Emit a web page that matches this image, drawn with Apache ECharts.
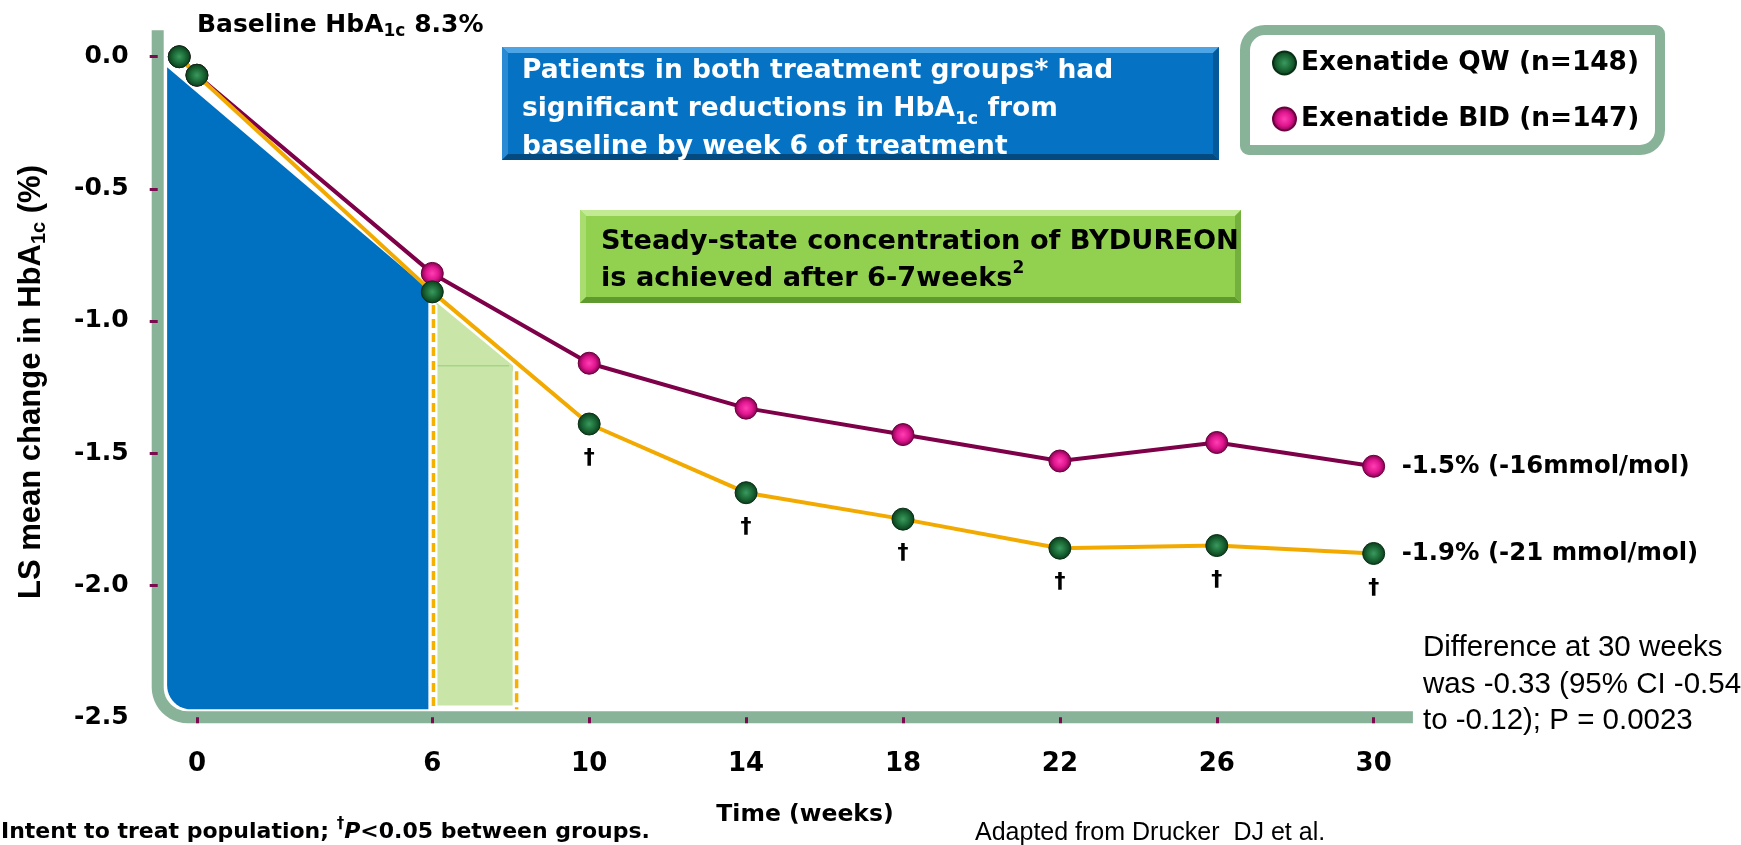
<!DOCTYPE html>
<html>
<head>
<meta charset="utf-8">
<script src="https://cdn.jsdelivr.net/npm/echarts@6/dist/echarts.min.js"></script>
<style>
  html, body { margin: 0; padding: 0; background: #fff; }
  #main { width: 1741px; height: 845px; }
</style>
</head>
<body>
<div id="main"></div>
<script>
// values (weeks, LS mean change in HbA1c %)
const weeks = [-0.45, 0, 6, 10, 14, 18, 22, 26, 30];
const qwChange = [0.0, -0.07, -0.89, -1.39, -1.65, -1.75, -1.86, -1.85, -1.88];
const bidChange = [0.0, -0.07, -0.82, -1.16, -1.33, -1.43, -1.53, -1.46, -1.55];
const significant = [false, false, false, true, true, true, true, true, true];
const seriesNames = ['Exenatide QW (n=148)', 'Exenatide BID (n=147)'];
const endLabels = ['-1.9% (-21 mmol/mol)', '-1.5% (-16mmol/mol)'];
const xTickWeeks = [0, 6, 10, 14, 18, 22, 26, 30];
const yTickValues = [0, -0.5, -1.0, -1.5, -2.0, -2.5];

// shaded regions under the QW line (week, change)
const earlyWeeks = [-0.76, 5.9];
const earlyTop = [-0.04, -0.88];
const steadyWeeks = [6.11, 8.06];
const steadyTop = [-0.93, -1.17];
const dashedWeeks = [6.03, 8.15];
const dashedTop = [-0.94, -1.19];
const shadeBottom = -2.47;

const BOLD = 'DejaVu Sans';
const ARIAL = 'Liberation Sans';

const greenDot = {
  type: 'radial', x: 0.5, y: 0.5, r: 0.5,
  colorStops: [
    { offset: 0, color: '#3a9a5e' },
    { offset: 0.55, color: '#1c6a37' },
    { offset: 1, color: '#0a3a1a' }
  ]
};
const pinkDot = {
  type: 'radial', x: 0.5, y: 0.5, r: 0.5,
  colorStops: [
    { offset: 0, color: '#ff3fb4' },
    { offset: 0.55, color: '#e0168f' },
    { offset: 1, color: '#7a0048' }
  ]
};

// axis band, shaded areas, dashed guides
function renderShapes(params, api) {
  const cs = params.coordSys;
  const pt = (w, v) => api.coord([w, v]);
  const children = [];

  const bx = cs.x, by = cs.y + cs.height, R = 30;
  const band = [[bx, cs.y]];
  for (let i = 0; i <= 12; i++) {
    const a = Math.PI - (i / 12) * Math.PI / 2;
    band.push([bx + R + R * Math.cos(a), by - R + R * Math.sin(a)]);
  }
  band.push([cs.x + cs.width, by]);
  children.push({
    type: 'polyline', shape: { points: band },
    style: { stroke: '#88b398', lineWidth: 12, fill: 'none' }
  });

  const p0 = pt(earlyWeeks[0], earlyTop[0]);
  const p1 = pt(earlyWeeks[1], earlyTop[1]);
  const yb = pt(0, shadeBottom)[1];
  const r = 24;
  const blue = [p0, p1, [p1[0], yb]];
  for (let i = 0; i <= 12; i++) {
    const a = Math.PI / 2 + (i / 12) * Math.PI / 2;
    blue.push([p0[0] + r + r * Math.cos(a), yb - r + r * Math.sin(a)]);
  }
  children.push({ type: 'polygon', shape: { points: blue }, style: { fill: '#0070c0' } });

  const s0 = pt(steadyWeeks[0], steadyTop[0]);
  const s1 = pt(steadyWeeks[1], steadyTop[1]);
  const yb2 = pt(0, shadeBottom + 0.015)[1];
  children.push({
    type: 'polygon',
    shape: { points: [s0, s1, [s1[0], yb2], [s0[0], yb2]] },
    style: { fill: '#c9e6a8' }
  });
  children.push({
    type: 'line',
    shape: { x1: s0[0], y1: s1[1], x2: s1[0] - 4, y2: s1[1] },
    style: { stroke: '#a8d488', lineWidth: 1.5 }
  });

  dashedWeeks.forEach((w, i) => {
    const t = pt(w, dashedTop[i]);
    children.push({
      type: 'line', shape: { x1: t[0], y1: t[1], x2: t[0], y2: yb },
      style: { stroke: '#fff', lineWidth: 8 }
    });
    children.push({
      type: 'line', shape: { x1: t[0], y1: t[1], x2: t[0], y2: yb },
      style: { stroke: '#f5b000', lineWidth: 3.5, lineDash: [9, 5] }
    });
  });

  return { type: 'group', children };
}

function bevelBox(x, y, w, h, d, c) {
  return [
    { type: 'rect', shape: { x, y, width: w, height: h }, style: { fill: c.base } },
    { type: 'polygon', shape: { points: [[x, y], [x + w, y], [x + w - d, y + d], [x + d, y + d]] }, style: { fill: c.top } },
    { type: 'polygon', shape: { points: [[x, y], [x + d, y + d], [x + d, y + h - d], [x, y + h]] }, style: { fill: c.left } },
    { type: 'polygon', shape: { points: [[x, y + h], [x + d, y + h - d], [x + w - d, y + h - d], [x + w, y + h]] }, style: { fill: c.bottom } },
    { type: 'polygon', shape: { points: [[x + w, y], [x + w, y + h], [x + w - d, y + h - d], [x + w - d, y + d]] }, style: { fill: c.right } }
  ];
}

const chart = echarts.init(document.getElementById('main'));

chart.setOption({
  animation: false,
  backgroundColor: '#fff',
  grid: { left: 157.7, right: 328.1, top: 30.3, bottom: 127.7 },
  legend: {
    data: seriesNames,
    orient: 'vertical',
    left: 1267, top: 45,
    icon: 'circle',
    itemWidth: 23, itemHeight: 23, itemGap: 30,
    selectedMode: false,
    textStyle: { fontFamily: BOLD, fontWeight: 'bold', fontSize: 26.4, color: '#000', lineHeight: 23 }
  },
  xAxis: {
    type: 'value', min: -1, max: 31, z: 5,
    axisLine: { show: false, onZero: false },
    splitLine: { show: false },
    axisTick: {
      customValues: xTickWeeks, length: 6,
      lineStyle: { color: '#7b0a4f', width: 3 }
    },
    axisLabel: {
      customValues: xTickWeeks, margin: 34,
      fontFamily: BOLD, fontWeight: 'bold', fontSize: 26, color: '#000'
    }
  },
  yAxis: {
    type: 'value', min: -2.5, max: 0.1, z: 5,
    axisLine: { show: false, onZero: false },
    splitLine: { show: false },
    axisTick: {
      customValues: yTickValues.filter(v => v > -2.5), length: 8,
      lineStyle: { color: '#7b0a4f', width: 3 }
    },
    axisLabel: {
      customValues: yTickValues, margin: 29,
      formatter: v => v.toFixed(1),
      fontFamily: BOLD, fontWeight: 'bold', fontSize: 25, color: '#000'
    }
  },
  series: [
    {
      type: 'custom', z: 1, silent: true, clip: false,
      renderItem: renderShapes,
      data: [[0, 0]]
    },
    {
      name: seriesNames[1], type: 'line', z: 3,
      data: weeks.map((w, i) => [w, bidChange[i]]),
      symbol: 'circle', symbolSize: 22,
      lineStyle: { color: '#7d0049', width: 4 },
      itemStyle: { color: pinkDot, borderColor: '#6d0040', borderWidth: 1 },
      endLabel: {
        show: true, distance: 28, formatter: endLabels[1],
        fontFamily: BOLD, fontWeight: 'bold', fontSize: 24.4, color: '#000'
      }
    },
    {
      name: seriesNames[0], type: 'line', z: 4,
      data: weeks.map((w, i) => ({
        value: [w, qwChange[i]],
        label: { show: significant[i] }
      })),
      symbol: 'circle', symbolSize: 22,
      lineStyle: { color: '#f2aa00', width: 4 },
      itemStyle: { color: greenDot, borderColor: '#083015', borderWidth: 1 },
      label: {
        position: 'bottom', distance: 12, formatter: '\u2020',
        fontFamily: BOLD, fontWeight: 'bold', fontSize: 22, color: '#000'
      },
      endLabel: {
        show: true, distance: 28, formatter: endLabels[0],
        fontFamily: BOLD, fontWeight: 'bold', fontSize: 24.4, color: '#000'
      }
    }
  ],
  graphic: {
    elements: [
      {
        type: 'text', x: 197, y: 10, z: 10,
        style: {
          text: 'Baseline HbA{s|1c} 8.3%',
          fontFamily: BOLD, fontWeight: 'bold', fontSize: 25, lineHeight: 30, fill: '#000',
          rich: { s: { fontFamily: BOLD, fontWeight: 'bold', fontSize: 17, lineHeight: 14, verticalAlign: 'bottom', fill: '#000' } }
        }
      },
      {
        type: 'group', z: 10,
        children: bevelBox(502, 47, 717, 113, 6, {
          base: '#0572c4', top: '#4ea5e6', left: '#2a8ad4', bottom: '#034a80', right: '#04599a'
        })
      },
      {
        type: 'text', x: 522, y: 52, z: 11,
        style: {
          text: 'Patients in both treatment groups* had\nsignificant reductions in HbA{s|1c} from\nbaseline by week 6 of treatment',
          fontFamily: BOLD, fontWeight: 'bold', fontSize: 26.5, lineHeight: 38, fill: '#fff',
          rich: { s: { fontFamily: BOLD, fontWeight: 'bold', fontSize: 18, lineHeight: 20, verticalAlign: 'bottom', fill: '#fff' } }
        }
      },
      {
        type: 'group', z: 10,
        children: bevelBox(580, 210, 661, 93, 6, {
          base: '#92d050', top: '#c2ea94', left: '#aadd70', bottom: '#5f9a2e', right: '#73b03e'
        })
      },
      {
        type: 'text', x: 601, y: 223, z: 11,
        style: {
          text: 'Steady-state concentration of BYDUREON\nis achieved after 6-7weeks{p|2}',
          fontFamily: BOLD, fontWeight: 'bold', fontSize: 27.2, lineHeight: 37, fill: '#000',
          rich: { p: { fontFamily: BOLD, fontWeight: 'bold', fontSize: 17, lineHeight: 28, verticalAlign: 'top', fill: '#000' } }
        }
      },
      {
        type: 'rect', z: 3,
        shape: { x: 1245, y: 30, width: 415, height: 120, r: [20, 4, 20, 4] },
        style: { fill: '#fff', stroke: '#88b398', lineWidth: 10 }
      },
      {
        type: 'text', x: 31, y: 382, rotation: Math.PI / 2, z: 10,
        style: {
          text: 'LS mean change in HbA{s|1c} (%)',
          align: 'center', verticalAlign: 'middle',
          fontFamily: ARIAL, fontWeight: 'bold', fontSize: 31, lineHeight: 36, fill: '#000',
          rich: { s: { fontFamily: ARIAL, fontWeight: 'bold', fontSize: 20, lineHeight: 19, verticalAlign: 'bottom', fill: '#000' } }
        }
      },
      {
        type: 'text', x: 805, y: 815, z: 10,
        style: {
          text: 'Time (weeks)', align: 'center', verticalAlign: 'middle',
          fontFamily: BOLD, fontWeight: 'bold', fontSize: 23.5, fill: '#000'
        }
      },
      {
        type: 'text', x: 1423, y: 630, z: 10,
        style: {
          text: 'Difference at 30 weeks\nwas -0.33 (95% CI -0.54\nto -0.12); P = 0.0023',
          fontFamily: ARIAL, fontSize: 29.5, lineHeight: 36.3, fill: '#000'
        }
      },
      {
        type: 'text', x: 1, y: 817, z: 10,
        style: {
          text: 'Intent to treat population; {p|\u2020}{i|P}<0.05 between groups.',
          fontFamily: BOLD, fontWeight: 'bold', fontSize: 22, lineHeight: 30, fill: '#000',
          rich: {
            p: { fontFamily: BOLD, fontWeight: 'bold', fontSize: 15, lineHeight: 20, verticalAlign: 'top', fill: '#000' },
            i: { fontFamily: BOLD, fontWeight: 'bold', fontStyle: 'italic', fontSize: 22, lineHeight: 30, fill: '#000' }
          }
        }
      },
      {
        type: 'text', x: 975, y: 818, z: 10,
        style: {
          text: 'Adapted from Drucker  DJ et al.',
          fontFamily: ARIAL, fontSize: 25, lineHeight: 30, fill: '#000'
        }
      }
    ]
  }
});
</script>
</body>
</html>
